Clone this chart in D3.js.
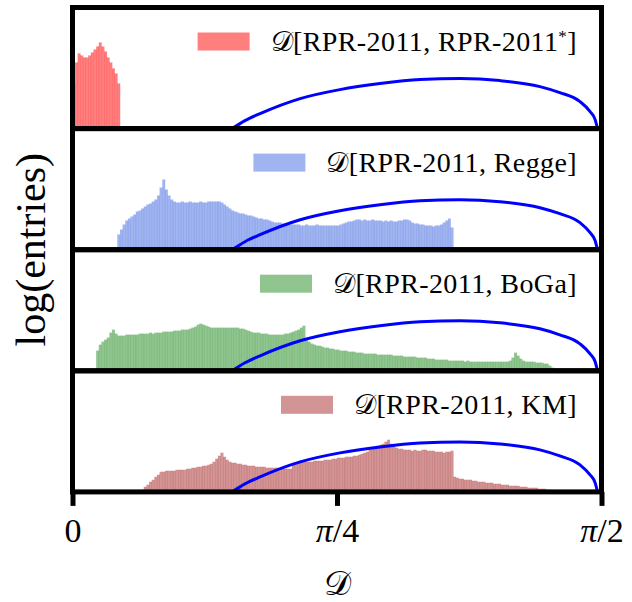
<!DOCTYPE html>
<html>
<head>
<meta charset="utf-8">
<script src="https://cdn.jsdelivr.net/npm/d3@7"></script>
<style>
  body { margin: 0; background: #fff; }
  text { font-family: "Liberation Serif", "DejaVu Serif", serif; fill: #000; }
</style>
</head>
<body>
<svg id="chart" width="632" height="602"></svg>
<script>
    // ---- data ----
    // 200 bins between 0 and pi/2, heights in log(entries) (arbitrary units)
    const nBins = 200;
    const binWidth = Math.PI / 2 / nBins;

    const panelNames = ["RPR-2011, RPR-2011", "RPR-2011, Regge", "RPR-2011, BoGa", "RPR-2011, KM"];
    const panelColors = ["#ff0000", "#4169e1", "#228b22", "#a52a2a"];
    const firstBin = [0, 17, 9, 26];

    const histRpr = [45,66,75,73,71,71,73,76,79,82,86,82,77,71,66,60,55,45];

    const histRegge = [15,20,25,29,31,33,35,38,39,41,43,45,46,48,50,54,62,70,60,54,50,48,47,
      47,48,47,47,48,47,47,47,48,47,47,48,48,48,48,48,
      47,45,43,41,39,38,37,36,36,35,34,34,33,32,31,31,30,30,29,28,27,27,27,26,
      26,26,25,25,25,
      25,24,24,25,24,24,24,25,24,24,24,24,
      24,24,24,24,
      25,26,27,28,28,29,30,
      30,29,30,29,29,30,29,29,
      29,28,29,28,29,28,28,29,
      29,30,30,29,27,26,26,25,25,24,24,24,23,24,24,25,27,29,31,22];

    const histBoga = [20,26,29,31,33,38,41,37,35,35,35,
      36,36,36,36,36,37,
      37,37,37,38,37,38,
      38,38,39,39,39,39,
      40,40,40,41,41,41,42,
      43,44,46,47,46,45,44,
      43,43,43,43,43,43,43,43,43,43,43,42,42,
      41,40,39,
      38,38,38,37,37,37,
      36,36,36,36,36,36,
      37,37,38,39,40,41,43,45,32,29,27,
      26,25,25,24,23,
      23,22,22,21,21,20,
      20,20,19,19,19,18,
      18,18,17,17,17,17,17,16,16,16,16,16,16,
      15,15,15,15,14,14,14,14,14,13,13,13,13,
      12,12,12,11,11,11,11,11,10,10,10,10,10,
      10,9,10,9,9,9,9,9,9,9,9,9,9,9,9,9,9,9,10,
      13,18,15,12,
      10,9,9,9,9,8,
      8,8,7,7,5,3];

    const histKm = [2,5,7,10,12,15,17,20,
      20,21,21,21,21,
      22,22,22,22,23,23,
      24,24,25,25,26,26,27,28,30,33,36,39,35,32,30,29,29,28,28,27,27,
      26,26,26,25,25,25,
      25,24,24,24,24,24,23,
      23,23,23,23,
      29,
      29,29,30,30,30,30,
      30,31,31,31,31,32,32,32,
      33,33,34,34,34,35,35,35,36,36,
      37,38,39,40,42,
      44,45,46,47,
      48,50,52,48,46,44,
      43,43,42,42,
      42,41,42,41,41,42,42,41,41,
      41,40,40,40,39,40,40,41,
      15,
      14,13,13,12,12,12,
      11,11,10,10,10,9,9,
      9,8,8,8,7,7,7,
      6,6,6,6,5,5,5,
      4,4,4,4,3,3,3,
      2,2,1];

    const histograms = [histRpr, histRegge, histBoga, histKm];

    // reference curve (same in every panel)
    const curveD   = [0.474, 0.512, 0.557, 0.676, 0.794, 0.913, 1.032, 1.151, 1.269, 1.388, 1.447, 1.507, 1.537, 1.552, 1.559];
    const curveLog = [0, 8, 15, 30, 39, 45, 49, 50, 48, 42, 36, 27, 17, 9, 0];

    const xTickValues = [0, Math.PI / 4, Math.PI / 2];
    const xTickLabels = ["0", "π/4", "π/2"];

    // ---- layout ----
    let svg = d3.select("svg#chart");
    let width = +svg.attr("width");
    let height = +svg.attr("height");
    let margin = { top: 7.5, right: 30.5, bottom: 110.1, left: 72.5 };
    let chartWidth = width - margin.left - margin.right;
    let chartHeight = height - margin.top - margin.bottom;
    let panelHeight = chartHeight / 4;

    const xScale = d3.scaleLinear().domain([0, Math.PI / 2]).range([0, chartWidth]);
    const yScale = d3.scaleLinear().domain([0, panelHeight]).range([panelHeight, 0]);

    const curveLine = d3.line()
        .x(d => xScale(d[0]))
        .y(d => yScale(d[1]))
        .curve(d3.curveMonotoneX);
    const curvePoints = curveD.map((d, i) => [d, curveLog[i]]);

    histograms.forEach((hist, p) => {
      let panel = svg.append("g")
          .attr("transform", "translate(" + margin.left + "," + (margin.top + p * panelHeight) + ")");

      let bins = hist.map((h, j) => ({ bin: firstBin[p] + j, h: h }));
      panel.append("g").selectAll("rect")
        .data(bins)
        .join("rect")
          .attr("x", d => xScale(d.bin * binWidth))
          .attr("width", xScale(binWidth) - xScale(0))
          .attr("y", d => yScale(d.h))
          .attr("height", d => panelHeight - yScale(d.h))
          .attr("fill", panelColors[p])
          .attr("fill-opacity", 0.5)
          .attr("stroke", panelColors[p])
          .attr("stroke-width", 0.5)
          .attr("stroke-opacity", 0.2);

      panel.append("path")
          .attr("d", curveLine(curvePoints))
          .attr("fill", "none")
          .attr("stroke", "#0000ff")
          .attr("stroke-width", 3);

      panel.append("rect")
          .attr("width", chartWidth)
          .attr("height", panelHeight)
          .attr("fill", "none")
          .attr("stroke", "#000")
          .attr("stroke-width", 5);

      // legend, right aligned
      let label = panel.append("text")
          .attr("x", 504.5)
          .attr("y", 43)
          .attr("text-anchor", "end")
          .style("font-size", "28px")
          .style("letter-spacing", "0.4px");
      label.append("tspan").text("𝒟[" + panelNames[p]);
      if (p === 0) {
        label.append("tspan").attr("baseline-shift", "super").style("font-size", "17px").text("*");
      }
      label.append("tspan").text("]");
      let textLen = label.node().getComputedTextLength();
      panel.append("rect")
          .attr("x", 504.5 - textLen - 21 - 52)
          .attr("y", 25)
          .attr("width", 52)
          .attr("height", 18)
          .attr("fill", panelColors[p])
          .attr("fill-opacity", 0.5);
    });

    // ---- bottom axis ----
    let bottomAxis = d3.axisBottom(xScale)
        .tickValues(xTickValues)
        .tickFormat((d, i) => xTickLabels[i])
        .tickSize(14)
        .tickSizeOuter(0)
        .tickPadding(12);
    let axisG = svg.append("g")
        .attr("transform", "translate(" + margin.left + "," + (margin.top + chartHeight) + ")")
        .call(bottomAxis);
    axisG.select(".domain").remove();
    axisG.selectAll(".tick line").attr("stroke", "#000").attr("stroke-width", 5);
    axisG.selectAll(".tick text")
        .style("font-family", "'Liberation Serif', serif")
        .style("font-size", "34px")
        .each(function(d, i) {
          // pi in italic, like the math font of the original
          let t = d3.select(this);
          let s = xTickLabels[i];
          if (s.startsWith("π")) {
            t.text("");
            t.append("tspan").style("font-style", "italic").text("π");
            t.append("tspan").text(s.slice(1));
          }
        });

    svg.append("text")
        .attr("x", margin.left + chartWidth / 2)
        .attr("y", 595)
        .attr("text-anchor", "middle")
        .style("font-size", "34px")
        .text("𝒟");

    svg.append("text")
        .attr("transform", "translate(45," + (margin.top + chartHeight / 2) + ") rotate(-90)")
        .attr("text-anchor", "middle")
        .style("font-size", "42px")
        .text("log(entries)");
</script>
</body>
</html>
